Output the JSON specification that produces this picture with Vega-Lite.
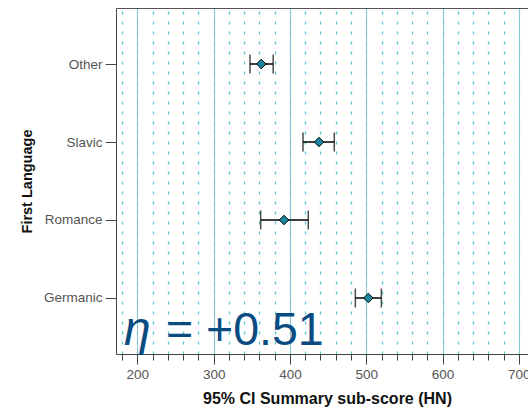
{
  "$schema": "https://vega.github.io/schema/vega-lite/v6.json",
  "width": 412,
  "height": 346,
  "autosize": {"type": "none"},
  "padding": {"left": 116, "top": 8, "right": 0, "bottom": 56},
  "background": "white",
  "config": {"view": {"stroke": null}, "font": "Liberation Sans"},
  "datasets": {
    "ci": [
      {"lang": "Other", "mean": 362.4, "low": 347.6, "high": 378.0},
      {"lang": "Slavic", "mean": 438.1, "low": 417.1, "high": 458.1},
      {"lang": "Romance", "mean": 392.2, "low": 361.6, "high": 424.0},
      {"lang": "Germanic", "mean": 502.7, "low": 485.7, "high": 519.8}
    ],
    "eta": [
      {"lang": "Germanic", "x": 182.5, "t": "η"}
    ],
    "val": [
      {"lang": "Germanic", "x": 237.5, "t": "= +0.51"}
    ]
  },
  "data": {"name": "ci"},
  "resolve": {"axis": {"x": "independent"}},
  "layer": [
    {
      "mark": {"type": "rule", "color": "black", "strokeWidth": 1.5},
      "encoding": {
        "x": {
          "field": "low", "type": "quantitative",
          "scale": {"domain": [172, 712], "nice": false, "zero": false},
          "axis": {
            "orient": "bottom",
            "values": [180,200,220,240,260,280,300,320,340,360,380,400,420,440,460,480,500,520,540,560,580,600,620,640,660,680,700],
            "grid": true, "gridDash": [3, 7], "gridColor": "#55c9cd", "gridWidth": 1.3,
            "ticks": true, "tickSize": 6, "tickColor": "#444", "tickWidth": 1,
            "labels": false, "domain": false, "title": null
          }
        },
        "x2": {"field": "high"},
        "y": {
          "field": "lang", "type": "nominal",
          "sort": ["Other", "Slavic", "Romance", "Germanic"],
          "scale": {"type": "point", "padding": 0.718},
          "axis": {
            "title": "First Language", "titleFontSize": 14.5, "titleFontWeight": "bold", "titleColor": "#111",
            "titlePadding": 9,
            "labelFontSize": 13.5, "labelColor": "#555", "labelPadding": 3,
            "tickSize": 11, "tickColor": "#444", "domainColor": "#444", "grid": false
          }
        }
      }
    },
    {
      "mark": {"type": "tick", "color": "black", "thickness": 1.5, "size": 19, "orient": "vertical"},
      "encoding": {
        "x": {
          "field": "low", "type": "quantitative",
          "axis": {
            "orient": "bottom",
            "values": [200, 300, 400, 500, 600, 700],
            "grid": true, "gridColor": "#86c6d6", "gridWidth": 1,
            "tickSize": 10, "tickColor": "#444",
            "labelFontSize": 13.5, "labelColor": "#555", "labelPadding": 3,
            "domain": true, "domainColor": "#444",
            "title": "95% CI Summary sub-score (HN)", "titleFontSize": 16, "titleFontWeight": "bold",
            "titleColor": "#111", "titlePadding": 10, "titleX": 211
          }
        },
        "y": {"field": "lang", "type": "nominal", "sort": ["Other", "Slavic", "Romance", "Germanic"]}
      }
    },
    {
      "mark": {"type": "tick", "color": "black", "thickness": 1.5, "size": 19, "orient": "vertical"},
      "encoding": {
        "x": {
          "field": "high", "type": "quantitative",
          "axis": {
            "orient": "top", "domain": true, "domainColor": "#555", "ticks": false,
            "labels": false, "grid": false, "title": null
          }
        },
        "y": {"field": "lang", "type": "nominal", "sort": ["Other", "Slavic", "Romance", "Germanic"]}
      }
    },
    {
      "mark": {"type": "point", "shape": "diamond", "filled": true, "fill": "#1a86a1", "stroke": "black", "strokeWidth": 1, "size": 90, "opacity": 1},
      "encoding": {
        "x": {"field": "mean", "type": "quantitative", "axis": null},
        "y": {"field": "lang", "type": "nominal", "sort": ["Other", "Slavic", "Romance", "Germanic"]}
      }
    },
    {
      "data": {"name": "eta"},
      "mark": {"type": "text", "fontSize": 48, "fontStyle": "italic", "color": "#0a4c82", "align": "left", "baseline": "alphabetic", "dy": 47},
      "encoding": {
        "x": {"field": "x", "type": "quantitative", "axis": null},
        "y": {"field": "lang", "type": "nominal", "sort": ["Other", "Slavic", "Romance", "Germanic"]},
        "text": {"field": "t"}
      }
    },
    {
      "data": {"name": "val"},
      "mark": {"type": "text", "fontSize": 46.5, "color": "#0a4c82", "align": "left", "baseline": "alphabetic", "dy": 47},
      "encoding": {
        "x": {"field": "x", "type": "quantitative", "axis": null},
        "y": {"field": "lang", "type": "nominal", "sort": ["Other", "Slavic", "Romance", "Germanic"]},
        "text": {"field": "t"}
      }
    }
  ]
}
